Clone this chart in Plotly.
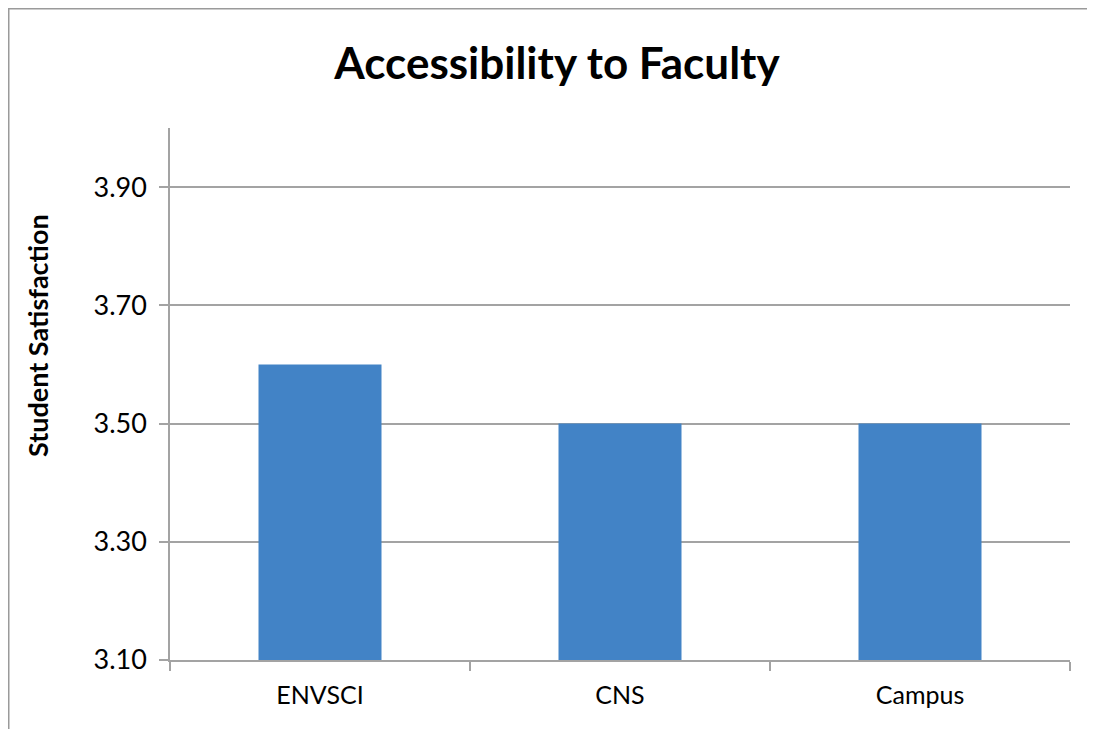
import plotly.graph_objects as go

categories = ["ENVSCI", "CNS", "Campus"]
values = [3.60, 3.50, 3.50]
y_ticks = [3.10, 3.30, 3.50, 3.70, 3.90]
y_tick_labels = ["3.10", "3.30", "3.50", "3.70", "3.90"]

# page body has an 8px margin, so the figure is sized/placed accordingly
OFF = 8
W, H = 1095 - OFF, 729 - OFF
ml, mr, mt, mb = 170 - OFF, 25, 128 - OFF, 69
pw, ph = W - ml - mr, H - mt - mb

fig = go.Figure()
fig.add_trace(go.Bar(
    x=categories, y=values,
    marker=dict(color="#4283C6", line=dict(width=0)),
))

grid = "#A3A3A3"
fig.update_layout(
    width=W, height=H,
    margin=dict(l=ml, r=mr, t=mt, b=mb),
    paper_bgcolor="white", plot_bgcolor="white",
    bargap=0.59,
    showlegend=False,
    title=dict(text="<b>Accessibility to Faculty</b>",
               x=(557 - OFF) / W, xanchor="center",
               y=1 - (64 - OFF) / H, yanchor="middle",
               font=dict(family="Lato", size=44, color="black")),
    font=dict(family="Lato", color="black"),
    xaxis=dict(
        type="category", tickson="boundaries", ticks="outside", ticklen=9,
        tickcolor=grid, tickwidth=1.5, showline=True, linecolor=grid, linewidth=1.5,
        showgrid=False, ticklabelstandoff=12, tickfont=dict(size=25, family="Lato"),
    ),
    yaxis=dict(
        range=[3.10, 4.00], tickvals=y_ticks, ticktext=y_tick_labels,
        ticks="outside", ticklen=9, tickcolor=grid, tickwidth=1.5,
        showline=True, linecolor=grid, linewidth=1.5,
        showgrid=True, gridcolor=grid, gridwidth=1.5, zeroline=False,
        ticklabelstandoff=7,
        tickfont=dict(size=27, family="Lato"),
    ),
    annotations=[
        dict(text="<b>Student Satisfaction</b>", textangle=-90,
             xref="paper", yref="paper",
             x=-(170 - 37) / pw, y=(660 - 336) / ph,
             xanchor="center", yanchor="middle", showarrow=False,
             font=dict(size=27, family="Lato", color="black")),
    ],
    shapes=[
        dict(type="line", xref="paper", yref="paper",
             x0=-ml / pw, x1=1 + (mr + 5) / pw,
             y0=1 + mt / ph - 0.5 / ph, y1=1 + mt / ph - 0.5 / ph,
             line=dict(color="#9A9A9A", width=2)),
        dict(type="line", xref="paper", yref="paper",
             x0=-ml / pw + 0.5 / pw, x1=-ml / pw + 0.5 / pw,
             y0=1 + mt / ph, y1=-(mb + 10) / ph,
             line=dict(color="#9A9A9A", width=2)),
    ],
)

fig.write_html("out.html")
